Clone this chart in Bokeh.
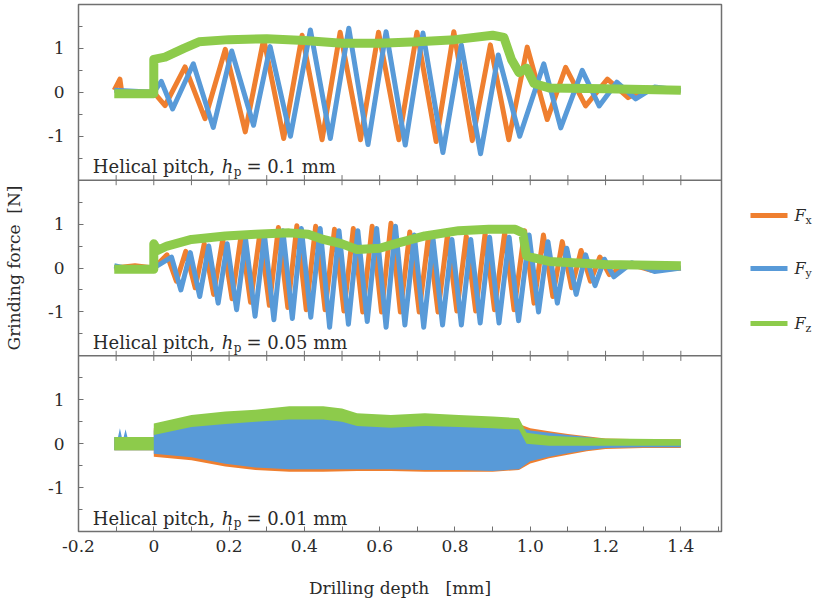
from bokeh.plotting import figure
from bokeh.models import Range1d, FixedTicker, Span
from bokeh.layouts import row
from bokeh.core.properties import value
from bokeh.embed import file_html
from bokeh.resources import INLINE

# ---------------- data ----------------
# Panel 1: helical pitch 0.1 mm  (extrema of the oscillating traces)
fx1_x = [-0.105, -0.09, -0.085, 0.0, 0.03, 0.083, 0.136, 0.190, 0.243, 0.292, 0.345, 0.394, 0.447,
         0.495, 0.549, 0.597, 0.651, 0.699, 0.750, 0.797, 0.846, 0.894, 0.943, 0.992, 1.045,
         1.094, 1.147, 1.205, 1.26, 1.31, 1.4]
fx1_y = [0.05, 0.3, 0.0, 0.0, -0.3, 0.58, -0.6, 0.98, -0.9, 1.22, -1.05, 1.3, -1.08,
         1.37, -1.08, 1.37, -1.08, 1.37, -1.12, 1.38, -1.1, 1.08, -1.08, 1.03, -0.62,
         0.57, -0.31, 0.3, -0.12, 0.1, 0.05]
fy1_x = [-0.105, 0.0, 0.02, 0.05, 0.105, 0.158, 0.207, 0.265, 0.309, 0.363, 0.416, 0.469, 0.518,
         0.569, 0.617, 0.668, 0.715, 0.768, 0.817, 0.868, 0.915, 0.972, 1.036, 1.081, 1.138,
         1.183, 1.23, 1.28, 1.33, 1.4]
fy1_y = [0.05, 0.0, 0.25, -0.38, 0.65, -0.8, 0.94, -0.75, 1.04, -1.0, 1.42, -1.05, 1.46,
         -1.19, 1.38, -1.2, 1.35, -1.37, 1.08, -1.4, 0.85, -1.0, 0.65, -0.81, 0.5,
         -0.31, 0.23, -0.15, 0.12, 0.05]
fz1_x = [-0.105, 0.0, 0.0, 0.03, 0.08, 0.12, 0.2, 0.3, 0.4, 0.5, 0.6, 0.7, 0.8, 0.9, 0.93,
         0.95, 0.97, 0.99, 1.01, 1.05, 1.2, 1.4]
fz1_y = [-0.03, -0.03, 0.75, 0.8, 1.0, 1.15, 1.2, 1.22, 1.18, 1.12, 1.12, 1.15, 1.2, 1.3, 1.25,
         0.75, 0.45, 0.55, 0.2, 0.1, 0.08, 0.05]

# Panel 2: helical pitch 0.05 mm
fx2_x = [-0.105, -0.05, 0.0, 0.035, 0.060, 0.085, 0.110, 0.134, 0.159, 0.183, 0.208, 0.232, 0.257,
         0.282, 0.307, 0.331, 0.356, 0.380, 0.405, 0.430, 0.455, 0.480, 0.505, 0.530, 0.555,
         0.580, 0.605, 0.630, 0.655, 0.680, 0.705, 0.730, 0.755, 0.780, 0.805, 0.830, 0.855,
         0.880, 0.905, 0.932, 0.957, 0.985, 1.010, 1.035, 1.060, 1.085, 1.110, 1.135, 1.160,
         1.185, 1.210, 1.26, 1.32, 1.4]
fx2_y = [0.0, 0.05, 0.0, 0.3, -0.3, 0.38, -0.45, 0.55, -0.6, 0.65, -0.7, 0.75, -0.78,
         0.8, -0.85, 0.92, -0.9, 0.96, -0.95, 0.95, -0.95, 0.88, -0.98, 0.9, -1.0,
         0.95, -1.0, 1.02, -1.0, 0.82, -1.0, 0.75, -1.0, 0.75, -0.98, 0.72, -0.98,
         0.78, -0.95, 0.8, -0.95, 0.85, -0.8, 0.75, -0.65, 0.6, -0.45, 0.4, -0.3,
         0.25, -0.15, 0.1, -0.05, 0.0]
fy2_x = [-0.105, -0.05, 0.0, 0.047, 0.072, 0.097, 0.122, 0.146, 0.171, 0.195, 0.220, 0.244, 0.269,
         0.294, 0.319, 0.343, 0.368, 0.392, 0.417, 0.442, 0.467, 0.492, 0.517, 0.542, 0.567,
         0.592, 0.617, 0.642, 0.667, 0.692, 0.717, 0.742, 0.767, 0.792, 0.817, 0.842, 0.867,
         0.892, 0.917, 0.944, 0.969, 0.997, 1.022, 1.047, 1.072, 1.097, 1.122, 1.147, 1.172,
         1.197, 1.222, 1.27, 1.33, 1.4]
fy2_y = [0.05, -0.05, 0.0, 0.25, -0.5, 0.35, -0.65, 0.5, -0.8, 0.55, -0.95, 0.65, -1.1,
         0.75, -1.18, 0.85, -1.15, 0.9, -1.12, 0.9, -1.35, 0.85, -1.28, 0.85, -1.22,
         0.9, -1.35, 0.95, -1.3, 0.75, -1.35, 0.65, -1.3, 0.65, -1.3, 0.65, -1.25,
         0.7, -1.25, 0.7, -1.2, 0.75, -1.0, 0.6, -0.8, 0.45, -0.6, 0.3, -0.4,
         0.2, -0.2, 0.12, -0.08, 0.0]
fz2_x = [-0.105, 0.0, 0.0, 0.01, 0.035, 0.1, 0.19, 0.27, 0.36, 0.41, 0.45, 0.5, 0.54, 0.6,
         0.64, 0.72, 0.81, 0.89, 0.96, 0.98, 0.99, 1.05, 1.2, 1.4]
fz2_y = [-0.03, -0.03, 0.55, 0.4, 0.5, 0.65, 0.73, 0.77, 0.8, 0.77, 0.65, 0.55, 0.42, 0.45,
         0.55, 0.73, 0.85, 0.88, 0.88, 0.8, 0.27, 0.15, 0.08, 0.05]

# Panel 3: helical pitch 0.01 mm (dense oscillation -> upper / lower envelopes)
p3_x = [-0.105, -0.095, -0.09, -0.085, -0.08, -0.075, -0.07, 0.0, 0.0, 0.1, 0.19, 0.27, 0.36,
        0.45, 0.54, 0.63, 0.72, 0.81, 0.9, 0.97, 1.0, 1.05, 1.1, 1.15, 1.2, 1.3, 1.4]
fx3_hi = [0.12, 0.12, 0.2, 0.12, 0.12, 0.2, 0.12, 0.12, 0.35, 0.47, 0.55, 0.6, 0.62,
          0.62, 0.52, 0.45, 0.5, 0.52, 0.5, 0.45, 0.35, 0.28, 0.22, 0.17, 0.12, 0.1, 0.1]
fx3_lo = [-0.15, -0.15, -0.15, -0.15, -0.15, -0.15, -0.15, -0.15, -0.3, -0.38, -0.52, -0.6, -0.64,
          -0.64, -0.62, -0.62, -0.64, -0.64, -0.64, -0.6, -0.45, -0.33, -0.25, -0.17, -0.12, -0.1, -0.1]
fy3_hi = [0.15, 0.15, 0.35, 0.15, 0.15, 0.33, 0.15, 0.15, 0.3, 0.42, 0.5, 0.54, 0.58,
          0.58, 0.46, 0.38, 0.42, 0.42, 0.38, 0.38, 0.3, 0.25, 0.2, 0.15, 0.1, 0.08, 0.08]
fy3_lo = [-0.15, -0.15, -0.15, -0.15, -0.15, -0.15, -0.15, -0.15, -0.23, -0.31, -0.46, -0.54, -0.58,
          -0.58, -0.58, -0.58, -0.6, -0.6, -0.62, -0.58, -0.4, -0.3, -0.22, -0.15, -0.1, -0.08, -0.08]
fz3_x = [-0.105, 0.0, 0.0, 0.1, 0.19, 0.27, 0.36, 0.45, 0.5, 0.54, 0.63, 0.72, 0.81, 0.9,
         0.97, 0.99, 1.05, 1.2, 1.4]
fz3_hi = [0.15, 0.15, 0.46, 0.65, 0.73, 0.77, 0.85, 0.85, 0.8, 0.69, 0.65, 0.69, 0.65, 0.62,
          0.58, 0.25, 0.18, 0.12, 0.1]
fz3_lo = [-0.15, -0.15, 0.2, 0.38, 0.45, 0.5, 0.55, 0.55, 0.5, 0.4, 0.36, 0.4, 0.38, 0.35,
          0.32, 0.0, -0.05, -0.05, -0.05]

pitch_labels = ["0.1", "0.05", "0.01"]
series_subs = ["x", "y", "z"]
x_ticks = [-0.2, 0.0, 0.2, 0.4, 0.6, 0.8, 1.0, 1.2, 1.4]
x_tick_labels = ["-0.2", "0", "0.2", "0.4", "0.6", "0.8", "1.0", "1.2", "1.4"]
x_minor = [-0.1, 0.1, 0.3, 0.5, 0.7, 0.9, 1.1, 1.3, 1.5]
y_vals = [-1, 0, 1]
y_tick_labels = ["-1", "0", "1"]
y_minor_vals = [-1.5, -0.5, 0.5, 1.5]

for a, b in [(fx1_x, fx1_y), (fy1_x, fy1_y), (fz1_x, fz1_y), (fx2_x, fx2_y), (fy2_x, fy2_y),
             (fz2_x, fz2_y), (p3_x, fx3_hi), (p3_x, fx3_lo), (p3_x, fy3_hi), (p3_x, fy3_lo),
             (fz3_x, fz3_hi), (fz3_x, fz3_lo)]:
    assert len(a) == len(b)

C_X, C_Y, C_Z = "#EF7F2F", "#589AD8", "#8DCB4B"
FRAME = "#707070"
TXT = "#2a2a2a"
FONT = "DejaVu Serif"
FH = 527  # frame height

# ---------------- main figure ----------------
p = figure(frame_width=643, frame_height=FH, x_range=Range1d(-0.2, 1.508), y_range=Range1d(0, 12),
           output_backend="svg", toolbar_location=None, min_border_left=76, min_border_right=3,
           min_border_top=4, min_border_bottom=4, background_fill_color="white",
           border_fill_color="white")
p.extra_y_ranges = {"p1": Range1d(-10, 2), "p2": Range1d(-6, 6), "p3": Range1d(-2, 10)}
p.xgrid.visible = False
p.ygrid.visible = False
p.outline_line_color = FRAME
p.outline_line_width = 1.5

offsets = [10, 6, 2]  # centre of each panel on the shared axis scale
y_ticks, y_labels, y_minor = [], {}, []
for off in offsets:
    for v, lab in zip(y_vals, y_tick_labels):
        y_ticks.append(off + v)
        y_labels[off + v] = lab
    y_minor += [off + v for v in y_minor_vals]

ya = p.yaxis[0]
ya.ticker = FixedTicker(ticks=y_ticks, minor_ticks=y_minor)
ya.major_label_overrides = y_labels
ya.axis_line_color = None
ya.major_tick_in, ya.major_tick_out = 5, 0
ya.minor_tick_in, ya.minor_tick_out = 4, 0
ya.major_tick_line_color = FRAME
ya.minor_tick_line_color = FRAME
ya.major_label_text_font = FONT
ya.major_label_text_font_size = "17px"
ya.major_label_text_color = TXT
ya.major_label_standoff = 14
ya.axis_label = "Grinding force\u00a0\u00a0[N]"
ya.axis_label_text_font = FONT
ya.axis_label_text_font_size = "17px"
ya.axis_label_text_font_style = "normal"
ya.axis_label_text_color = TXT
ya.axis_label_standoff = 21

xa = p.xaxis[0]
xa.ticker = FixedTicker(ticks=x_ticks, minor_ticks=x_minor)
xa.major_label_overrides = dict(zip(x_ticks, x_tick_labels))
xa.axis_line_color = None
xa.major_tick_in, xa.major_tick_out = 5, 0
xa.minor_tick_in, xa.minor_tick_out = 5, 0
xa.major_tick_line_color = FRAME
xa.minor_tick_line_color = FRAME
xa.major_label_text_font = FONT
xa.major_label_text_font_size = "17px"
xa.major_label_text_color = TXT
xa.major_label_standoff = 8
xa.axis_label = "Drilling depth\u00a0\u00a0\u00a0[mm]"
xa.axis_label_text_font = FONT
xa.axis_label_text_font_size = "17px"
xa.axis_label_text_font_style = "normal"
xa.axis_label_text_color = TXT
xa.axis_label_standoff = 23

for loc in [4, 8]:
    p.add_layout(Span(location=loc, dimension="width", line_color=FRAME, line_width=1.5))

# inward x ticks at the panel boundaries
all_xt = sorted(x_ticks + x_minor[:-1])
for name, bottom, top in [("p1", True, False), ("p2", True, True), ("p3", False, True)]:
    if bottom:
        p.segment(x0=all_xt, x1=all_xt, y0=[-2.0] * len(all_xt), y1=[-1.885] * len(all_xt),
                  y_range_name=name, line_color=FRAME, line_width=1)
    if top:
        p.segment(x0=all_xt, x1=all_xt, y0=[2.0] * len(all_xt), y1=[1.885] * len(all_xt),
                  y_range_name=name, line_color=FRAME, line_width=1)

# panel 1 & 2 traces
for name, (xx, xy), (yx, yy), (zx, zy) in [
        ("p1", (fx1_x, fx1_y), (fy1_x, fy1_y), (fz1_x, fz1_y)),
        ("p2", (fx2_x, fx2_y), (fy2_x, fy2_y), (fz2_x, fz2_y))]:
    p.line(xx, xy, y_range_name=name, line_color=C_X, line_width=5, line_join="round")
    p.line(yx, yy, y_range_name=name, line_color=C_Y, line_width=5, line_join="round")
    p.line(zx, zy, y_range_name=name, line_color=C_Z, line_width=9, line_join="round")

# panel 3 envelopes
p.varea(x=p3_x, y1=fx3_lo, y2=fx3_hi, y_range_name="p3", fill_color=C_X)
p.varea(x=p3_x, y1=fy3_lo, y2=fy3_hi, y_range_name="p3", fill_color=C_Y)
p.varea(x=fz3_x, y1=fz3_lo, y2=fz3_hi, y_range_name="p3", fill_color=C_Z)

# panel annotations
for name, pitch in zip(["p1", "p2", "p3"], pitch_labels):
    common = dict(x=[-0.162], y=[-1.7], y_range_name=name, text_font=value(FONT),
                  text_color=TXT, text_baseline="alphabetic", text_align="left")
    p.text(text=["Helical pitch, "], text_font_size="18px", **common)
    p.text(text=["h"], text_font_size="18px", text_font_style="italic", x_offset=129, **common)
    p.text(text=["p"], text_font_size="12px", x_offset=141, y_offset=5, **common)
    p.text(text=["\u00a0= " + pitch + " mm"], text_font_size="18px", x_offset=148, **common)

# ---------------- legend figure (frame aligned with the main frame) ----------------
lg = figure(frame_width=89, frame_height=FH, x_range=Range1d(0, 89), y_range=Range1d(FH, 0),
            output_backend="svg", toolbar_location=None, min_border=0, min_border_top=4,
            x_axis_type=None, y_axis_type=None, outline_line_color=None,
            background_fill_color="white", border_fill_color="white")
lg.xgrid.visible = False
lg.ygrid.visible = False
leg_y = [211, 264, 319]
lg.segment(x0=[26] * 3, x1=[63] * 3, y0=leg_y, y1=leg_y, line_color=[C_X, C_Y, C_Z], line_width=5)
lg.text(x=[70] * 3, y=leg_y, text=["F"] * 3, text_font=value(FONT), text_font_style="italic",
        text_font_size="16px", text_baseline="middle", text_color=TXT)
lg.text(x=[81] * 3, y=leg_y, text=series_subs, y_offset=5, text_font=value(FONT),
        text_font_size="11px", text_baseline="middle", text_color=TXT)

layout = row(p, lg)
open("out.html", "w").write(file_html(layout, INLINE))
